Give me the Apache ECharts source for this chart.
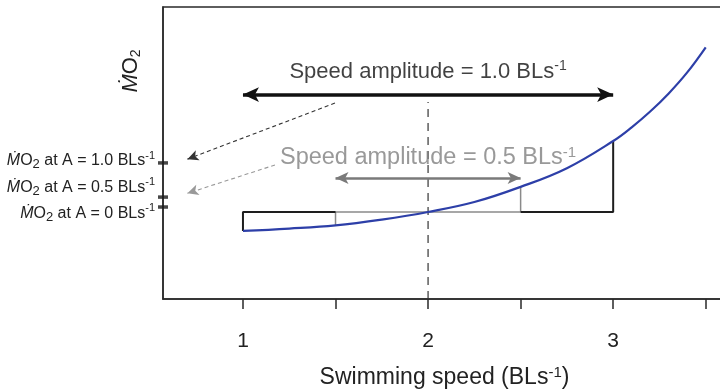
<!DOCTYPE html>
<html>
<head>
<meta charset="utf-8">
<script src="https://cdn.jsdelivr.net/npm/echarts@6/dist/echarts.min.js"></script>
<style>
html,body{margin:0;padding:0;background:#fff;}
#chart{width:720px;height:390px;}
</style>
</head>
<body>
<div id="chart"></div>
<script>
// ---- data ----
const speed = [1.0, 1.25, 1.5, 1.75, 2.0, 2.25, 2.5, 2.75, 3.0, 3.1, 3.2, 3.3, 3.4, 3.5];
const mo2 = [2.33, 2.41, 2.52, 2.72, 2.98, 3.32, 3.84, 4.48, 5.41, 5.88, 6.42, 7.04, 7.76, 8.62];
const xTicks = [1, 1.5, 2, 2.5, 3, 3.5];
const xTickLabels = [1, 2, 3];
const meanLevel = 2.98;
const amplitudes = ['1.0', '0.5', '0'];
const mo2TickValues = [4.66, 3.49, 3.15];
const mo2LabelValues = [4.73, 3.82, 2.93];
const bigArrow = {from: 1, to: 3, y: 7.0, label: 'Speed amplitude = 1.0 BLs', labelY: 7.77};
const smallArrow = {from: 1.5, to: 2.5, y: 4.14, label: 'Speed amplitude = 0.5 BLs', labelY: 4.83};
const pointerBlack = [[1.497, 6.71], [0.70, 4.79]];
const pointerGray = [[1.173, 4.59], [0.70, 3.62]];
const midSpeed = 2;
const dashTop = 6.75;
const yTitle = 'ṀO';
const xTitle = 'Swimming speed (BLs';

const font = '"Liberation Sans", Arial, "DejaVu Sans", sans-serif';
const xMin = 0.568, xMax = 3.75;

const curve = speed.map((s, i) => [s, mo2[i]]);
const iA = 0, iB = speed.indexOf(1.5), iC = speed.indexOf(2.5), iD = speed.indexOf(3.0);
const rectLeft = [[speed[iA], mo2[iA]], [speed[iA], meanLevel], [speed[iB], meanLevel]];
const rectMid = [[speed[iB], mo2[iB]], [speed[iB], meanLevel], [speed[iC], meanLevel], [speed[iC], mo2[iC]]];
const rectRight = [[speed[iC], meanLevel], [speed[iD], meanLevel], [speed[iD], mo2[iD]]];

const chart = echarts.init(document.getElementById('chart'), null, {renderer: 'canvas'});
const option = {
  backgroundColor: '#ffffff',
  animation: false,
  grid: {left: 163, width: 589, top: 7, bottom: 91, show: true, borderColor: '#2a2a2a', borderWidth: 1.5,
    containLabel: false, outerBoundsMode: 'none'},
  xAxis: {
    type: 'value', min: xMin, max: xMax,
    axisLine: {show: true, onZero: false, lineStyle: {color: '#2a2a2a', width: 1.5}},
    axisTick: {show: true, length: 10, customValues: xTicks, lineStyle: {color: '#2a2a2a', width: 1.5}},
    axisLabel: {customValues: xTickLabels, margin: 32, fontSize: 21, color: '#222', fontFamily: font},
    splitLine: {show: false},
    name: xTitle + '{sup|-1})',
    nameLocation: 'middle', nameGap: 66,
    nameTextStyle: {fontSize: 23, color: '#222', fontFamily: font, padding: [0, 26, 0, 0],
      rich: {sup: {fontSize: 15, verticalAlign: 'top', padding: [0, 0, 11, 0], color: '#222', fontFamily: font}}}
  },
  yAxis: {
    type: 'value', min: 0, max: 10,
    axisLine: {show: true, lineStyle: {color: '#2a2a2a', width: 1.5}},
    axisTick: {show: false},
    splitLine: {show: false},
    axisLabel: {
      customValues: mo2LabelValues, margin: 8, color: '#222', fontSize: 16, fontFamily: font,
      formatter: function (v) {
        let k = 0, best = 1e9;
        mo2LabelValues.forEach((lv, j) => { if (Math.abs(lv - v) < best) { best = Math.abs(lv - v); k = j; } });
        return '{m|Ṁ}O{sub|2} at A = ' + amplitudes[k] + ' BLs{sup|-1}';
      },
      rich: {
        m: {fontSize: 16, fontStyle: 'italic', color: '#222', fontFamily: font},
        sub: {fontSize: 13, verticalAlign: 'bottom', padding: [8, 0, 0, 0], color: '#222', fontFamily: font},
        sup: {fontSize: 11, verticalAlign: 'top', padding: [0, 0, 8, 0], color: '#222', fontFamily: font}
      }
    }
  },
  graphic: [{
    type: 'text', x: 131, y: 71, rotation: Math.PI / 2,
    style: {
      text: '{m|' + yTitle.charAt(0) + '}' + yTitle.slice(1) + '{sub|2}',
      align: 'center', verticalAlign: 'middle', fill: '#222', fontSize: 22, fontFamily: font,
      rich: {
        m: {fontSize: 22, fontStyle: 'italic', fill: '#222', fontFamily: font},
        sub: {fontSize: 14, verticalAlign: 'bottom', padding: [10, 0, 0, 0], fill: '#222', fontFamily: font}
      }
    }
  }],
  series: [
    {type: 'line', data: [[midSpeed, 0], [midSpeed, dashTop]], symbol: 'none', z: 1,
      lineStyle: {color: '#333', width: 1.2, type: [8, 6]}},
    {type: 'line', data: rectMid, symbol: 'none', z: 2, lineStyle: {color: '#8a8a8a', width: 1.5}},
    {type: 'line', data: rectLeft, symbol: 'none', z: 3, lineStyle: {color: '#1e1e1e', width: 2}},
    {type: 'line', data: rectRight, symbol: 'none', z: 3, lineStyle: {color: '#1e1e1e', width: 2}},
    {type: 'line', data: curve, smooth: 0.4, symbol: 'none', z: 5, lineStyle: {color: '#2d3fa8', width: 2.2}},
    {type: 'scatter', data: mo2TickValues.map(v => [xMin, v]), symbol: 'rect', symbolSize: [10, 3.5],
      clip: false, z: 6, itemStyle: {color: '#1a1a1a'}},
    {type: 'line', data: [], symbol: 'none',
      markLine: {
        silent: true, animation: false, label: {show: false},
        data: [
          [{coord: [bigArrow.from, bigArrow.y], symbol: 'arrow', symbolSize: [11, 16], lineStyle: {color: '#111', width: 3.5, type: 'solid'}},
           {coord: [bigArrow.to, bigArrow.y], symbol: 'arrow', symbolSize: [11, 16]}],
          [{coord: [smallArrow.from, smallArrow.y], symbol: 'arrow', symbolSize: [9, 13], lineStyle: {color: '#7a7a7a', width: 2.5, type: 'solid'}},
           {coord: [smallArrow.to, smallArrow.y], symbol: 'arrow', symbolSize: [9, 13]}],
          [{coord: pointerBlack[0], symbol: 'none', lineStyle: {color: '#333', width: 1.1, type: [4, 3]}},
           {coord: pointerBlack[1], symbol: 'arrow', symbolSize: [8, 11]}],
          [{coord: pointerGray[0], symbol: 'none', lineStyle: {color: '#999', width: 1.1, type: [4, 3]}},
           {coord: pointerGray[1], symbol: 'arrow', symbolSize: [8, 11]}]
        ]
      }
    },
    {type: 'scatter', symbolSize: 0, clip: false, z: 7,
      data: [
        {value: [(bigArrow.from + bigArrow.to) / 2, bigArrow.labelY],
          label: {show: true, position: 'inside', formatter: bigArrow.label + '{sup|-1}', fontSize: 22, color: '#111', fontFamily: font,
            rich: {sup: {fontSize: 14, verticalAlign: 'top', padding: [0, 0, 11, 0], color: '#111', fontFamily: font}}}},
        {value: [(smallArrow.from + smallArrow.to) / 2, smallArrow.labelY],
          label: {show: true, position: 'inside', formatter: smallArrow.label + '{sup|-1}', fontSize: 23.5, color: '#808080', fontFamily: font,
            rich: {sup: {fontSize: 15, verticalAlign: 'top', padding: [0, 0, 11, 0], color: '#808080', fontFamily: font}}}}
      ]
    }
  ]
};
chart.setOption(option);
</script>
</body>
</html>
